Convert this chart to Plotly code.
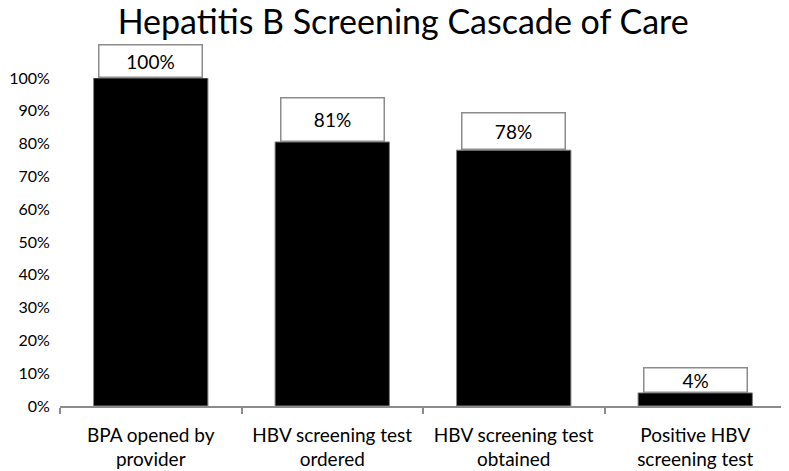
import plotly.graph_objects as go

categories = ["BPA opened by<br>provider", "HBV screening test<br>ordered",
              "HBV screening test<br>obtained", "Positive HBV<br>screening test"]
values = [1.00, 0.805, 0.78, 0.04]
labels = ["100%", "81%", "78%", "4%"]
yticks = [i / 10 for i in range(11)]
ytick_text = [f"{i*10}%" for i in range(11)]

box_heights = [31, 42, 35, 23]
FONT = "Lato"

fig = go.Figure()
fig.add_trace(go.Bar(
    x=categories, y=values, width=0.63,
    marker=dict(color="black", line=dict(color="#808080", width=1)),
    hoverinfo="skip",
))

for c, v, t, h in zip(categories, values, labels, box_heights):
    fig.add_annotation(
        x=c, y=v, xref="x", yref="y", text=t, showarrow=False,
        yanchor="bottom", width=102, height=h,
        bgcolor="white", bordercolor="#8c8c8c", borderwidth=1.5, borderpad=0,
        font=dict(family=FONT, size=19, color="black"),
    )

fig.update_layout(
    width=781, height=463,
    margin=dict(l=52, r=3, t=70, b=65, autoexpand=False),
    paper_bgcolor="white", plot_bgcolor="white",
    showlegend=False,
    title=dict(text="Hepatitis B Screening Cascade of Care",
               x=0.506, xanchor="center", xref="container",
               y=0.970, yanchor="middle", yref="container",
               font=dict(family=FONT, size=34, color="black")),
    bargap=0.37,
)
fig.update_xaxes(
    showline=True, linecolor="#8c8c8c", linewidth=1.5,
    ticks="outside", tickson="boundaries", ticklen=6, tickcolor="#8c8c8c",
    tickwidth=1.5, ticklabelstandoff=11,
    tickfont=dict(family=FONT, size=19, color="black"),
    showgrid=False, zeroline=False,
)
fig.update_yaxes(
    range=[0, 1.0], tickvals=yticks, ticktext=ytick_text,
    showgrid=False, zeroline=False, showline=False,
    ticks="outside", ticklen=6, tickcolor="rgba(0,0,0,0)",
    tickfont=dict(family=FONT, size=16, color="black"),
)
fig.write_html("out.html")
